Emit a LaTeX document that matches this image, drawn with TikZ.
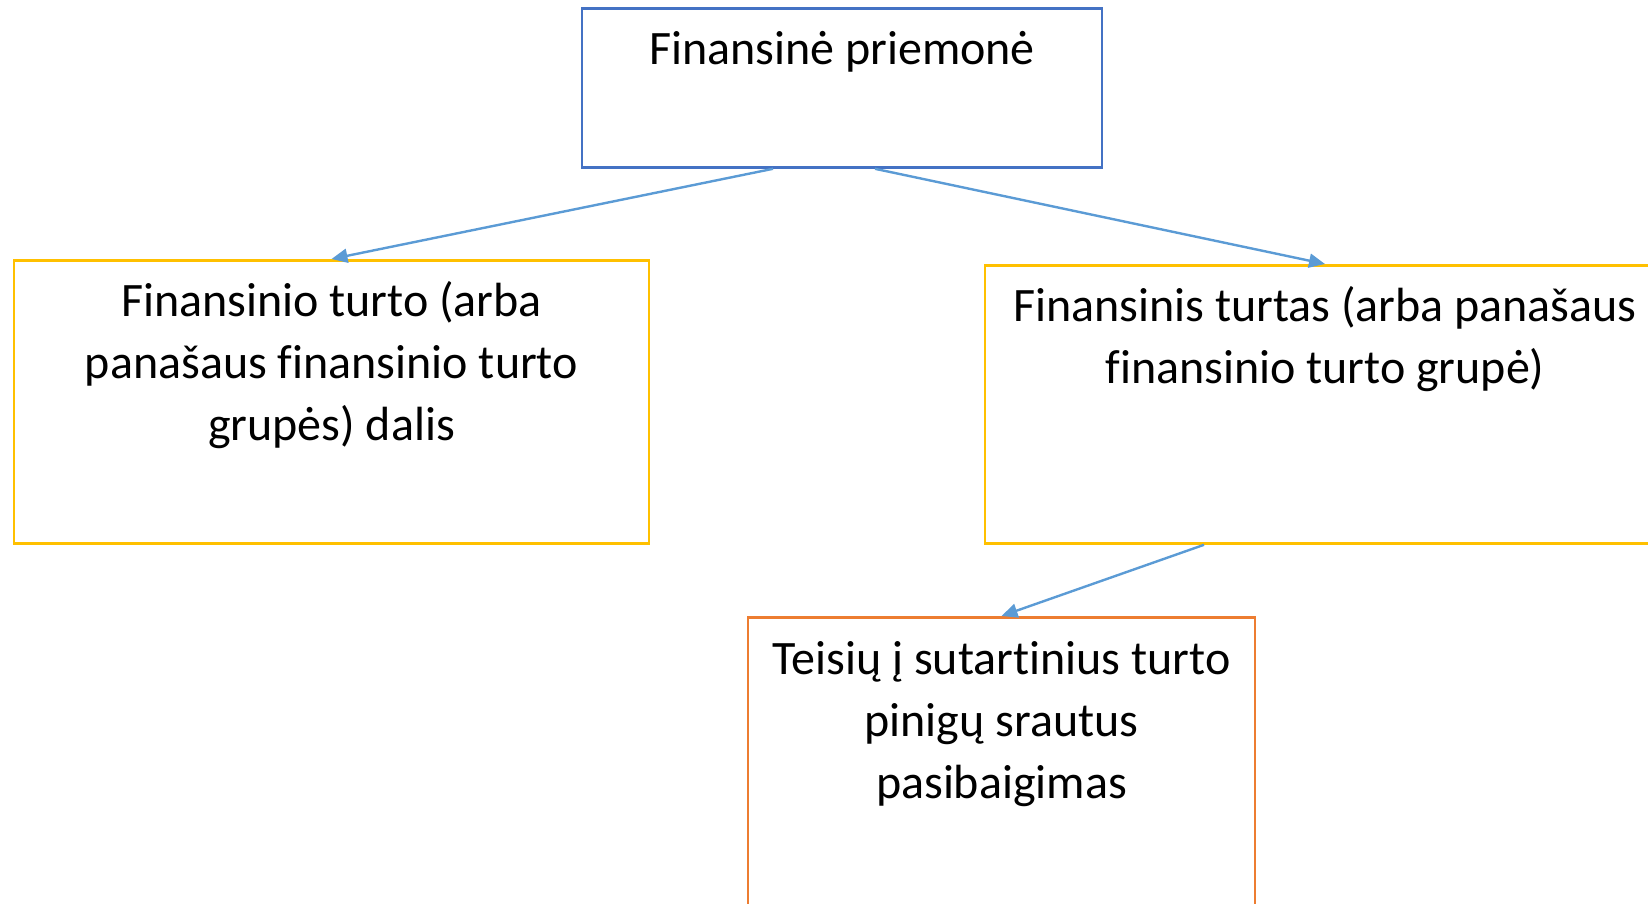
\documentclass[tikz,border=0pt]{standalone}
\usepackage{fontspec}
\setmainfont{Carlito}[Ligatures=NoCommon]
\usetikzlibrary{arrows.meta}

\definecolor{boxblue}{HTML}{4472C4}
\definecolor{boxgold}{HTML}{FFC000}
\definecolor{boxorange}{HTML}{ED7D31}
\definecolor{lineblue}{HTML}{5B9BD5}

\begin{document}
\begin{tikzpicture}[x=0.5pt, y=0.5pt, box/.style={rectangle, draw, line width=1.4pt, inner sep=0pt, align=flush center, anchor=north, font=\fontsize{24}{31}\selectfont, text height=28pt}, conn/.style={draw=lineblue, line width=1.2pt, -{Triangle[length=8pt, width=7pt]}}]

  \useasboundingbox (0,0) rectangle (1648,-904);

  \node[box, draw=boxblue, text width=260pt, text depth=51.5pt] (priemone) at (842,-7) {Finansinė priemonė};
  \node[box, draw=boxgold, text width=317.5pt, text depth=113.5pt] (dalis) at (331.5,-259) {Finansinio turto (arba\\panašaus finansinio turto\\grupės) dalis};
  \node[box, draw=boxgold, text width=340pt, text depth=111pt] (turtas) at (1325,-264) {Finansinis turtas (arba panašaus\\finansinio turto grupė)};
  \node[box, draw=boxorange, text width=253.5pt, text height=28.5pt, text depth=123.5pt] (teises) at (1001.5,-616) {Teisių į sutartinius turto\\pinigų srautus\\pasibaigimas};

  \draw[conn] ([xshift=-34.5pt]priemone.south) -- (dalis.north);
  \draw[conn] ([xshift=16.5pt]priemone.south) -- (turtas.north);
  \draw[conn] ([xshift=-60.5pt]turtas.south) -- (teises.north);

\end{tikzpicture}
\end{document}
